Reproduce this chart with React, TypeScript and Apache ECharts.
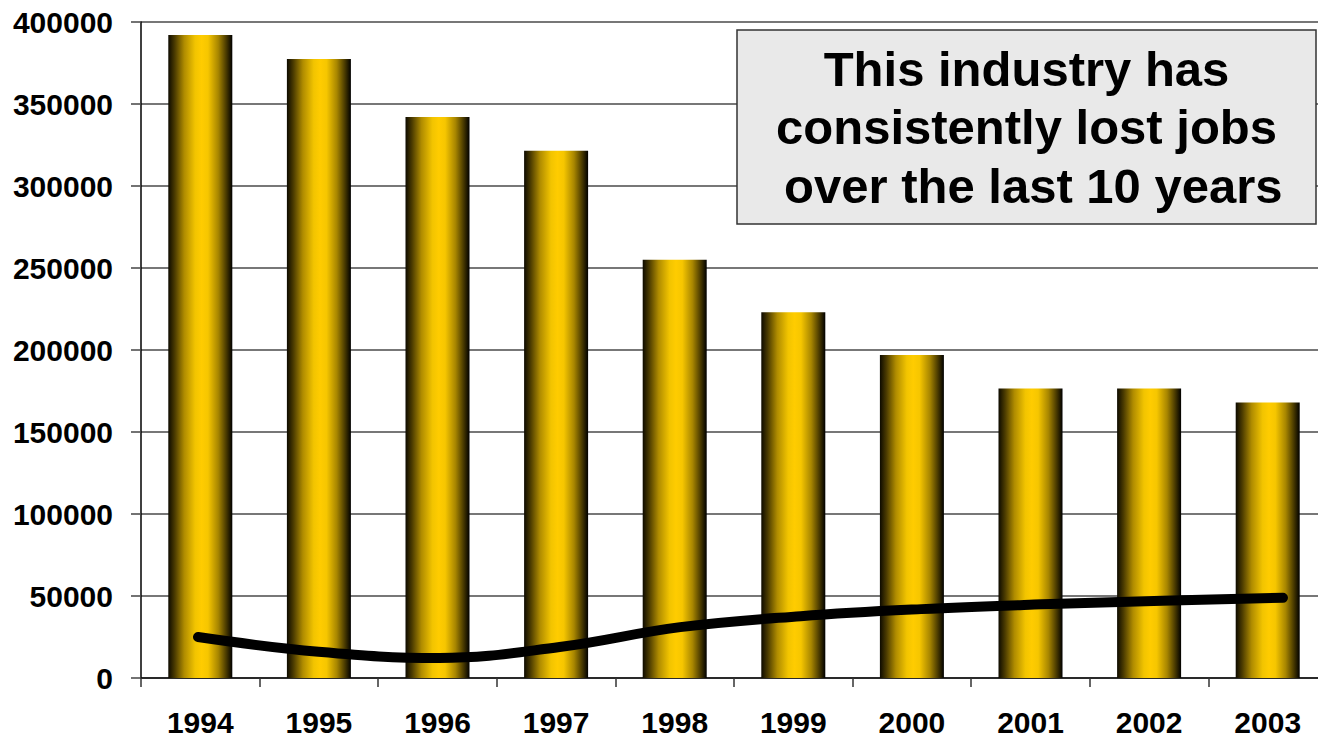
import React, { useEffect, useRef } from "react";
import * as echarts from "echarts";

// Employment by year (bars) and the companion trend series (line)
const years = ["1994", "1995", "1996", "1997", "1998", "1999", "2000", "2001", "2002", "2003"];
const jobs = [392000, 377500, 342000, 321500, 255000, 223000, 197000, 176500, 176500, 168000];
const trend = [25000, 16000, 12200, 18900, 31000, 37700, 42000, 44900, 47100, 48900];
const yTicks = { min: 0, max: 400000, interval: 50000 };
const noteLines = ["This industry has", "consistently lost jobs", " over the last 10 years"];

const FONT = '"Liberation Sans", Arial, sans-serif';
// The plot runs a little past the visible right edge, so the chart canvas is wider than its frame
const VIEW_W = 1318;
const CHART_W = 1327;
const CHART_H = 738;

export default function App() {
  const ref = useRef<HTMLDivElement>(null);

  useEffect(() => {
    if (!ref.current) return;
    const chart = echarts.init(ref.current, null, { renderer: "svg" });

    const barGradient = new echarts.graphic.LinearGradient(0, 0, 1, 0, [
      { offset: 0, color: "#0d0a00" },
      { offset: 0.1, color: "#4a3a00" },
      { offset: 0.25, color: "#b08c00" },
      { offset: 0.42, color: "#f2c400" },
      { offset: 0.52, color: "#ffcc00" },
      { offset: 0.62, color: "#f6c600" },
      { offset: 0.78, color: "#a88600" },
      { offset: 0.92, color: "#3e3100" },
      { offset: 1, color: "#000000" },
    ]);

    chart.setOption({
      animation: false,
      backgroundColor: "#ffffff",
      grid: [
        { left: 141, right: 0, top: 22, bottom: 60, containLabel: false },
        { left: 198, right: CHART_W - 1283, top: 22, bottom: 60, containLabel: false },
      ],
      xAxis: [
        {
          type: "category",
          gridIndex: 0,
          data: years,
          boundaryGap: true,
          axisLine: { show: true, lineStyle: { color: "#111", width: 1.5 } },
          axisTick: { show: true, length: 9, lineStyle: { color: "#333", width: 1.5 } },
          axisLabel: {
            margin: 30,
            color: "#000",
            fontFamily: FONT,
            fontWeight: "bold",
            fontSize: 30,
            lineHeight: 28,
          },
          splitLine: { show: false },
        },
        {
          type: "category",
          gridIndex: 1,
          data: years,
          boundaryGap: false,
          show: false,
        },
      ],
      yAxis: [
        {
          type: "value",
          gridIndex: 0,
          min: yTicks.min,
          max: yTicks.max,
          interval: yTicks.interval,
          axisLine: { show: true, lineStyle: { color: "#000", width: 1.5 } },
          axisTick: { show: true, length: 10, lineStyle: { color: "#444", width: 1.5 } },
          axisLabel: {
            margin: 28,
            color: "#000",
            fontFamily: FONT,
            fontWeight: "bold",
            fontSize: 30,
            formatter: (v: number) => String(v),
          },
          splitLine: { show: true, lineStyle: { color: "#4a4a4a", width: 1.5 } },
        },
        {
          type: "value",
          gridIndex: 1,
          min: yTicks.min,
          max: yTicks.max,
          show: false,
          splitLine: { show: false },
        },
      ],
      series: [
        {
          type: "bar",
          xAxisIndex: 0,
          yAxisIndex: 0,
          data: jobs,
          barWidth: 64,
          itemStyle: { color: barGradient },
        },
        {
          type: "line",
          xAxisIndex: 1,
          yAxisIndex: 1,
          data: trend,
          smooth: 0.4,
          symbol: "none",
          lineStyle: { color: "#000", width: 10, cap: "round", join: "round" },
          z: 5,
        },
      ],
      graphic: [
        {
          type: "rect",
          z: 10,
          shape: { x: 737, y: 30, width: 579, height: 194 },
          style: { fill: "#e9e9e9", stroke: "#333333", lineWidth: 1.5 },
        },
        {
          type: "text",
          z: 11,
          x: 1026.5,
          y: 127,
          style: {
            text: noteLines.join("\n"),
            fill: "#000",
            fontFamily: FONT,
            fontWeight: "bold",
            fontSize: 49,
            lineHeight: 58.5,
            align: "center",
            verticalAlign: "middle",
          },
        },
      ],
    });

    return () => chart.dispose();
  }, []);

  return (
    <div
      style={{
        position: "fixed",
        left: 0,
        top: 0,
        width: VIEW_W,
        height: CHART_H,
        overflow: "hidden",
        background: "#fff",
      }}
    >
      <div ref={ref} style={{ width: CHART_W, height: CHART_H }} />
    </div>
  );
}
